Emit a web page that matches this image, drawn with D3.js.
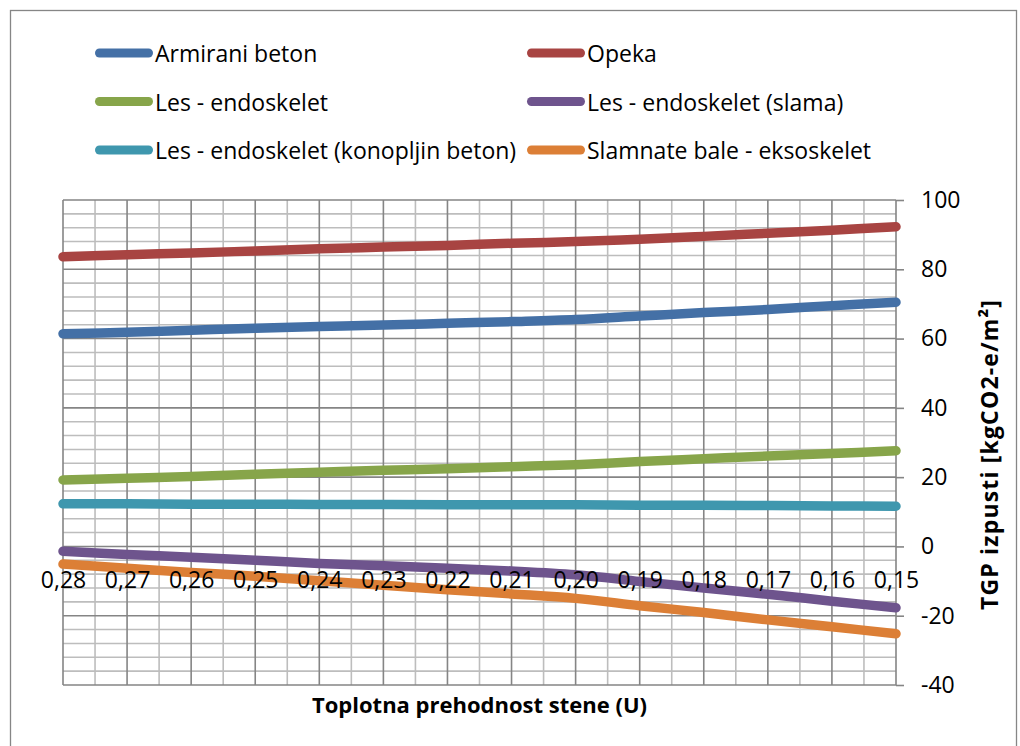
<!DOCTYPE html>
<html>
<head>
<meta charset="utf-8">
<script src="https://cdn.jsdelivr.net/npm/d3@7"></script>
<style>
  html, body { margin: 0; padding: 0; background: #fff; }
  svg { display: block; }
  text { font-family: "Open Sans", "Noto Sans", sans-serif; fill: #000; }
</style>
</head>
<body>
<svg id="chart" width="1020" height="746"></svg>
<script>
// ---- data ----
const categories = ["0,28","0,27","0,26","0,25","0,24","0,23","0,22","0,21","0,20","0,19","0,18","0,17","0,16","0,15"];
const armiraniBeton = [61.4, 61.8, 62.4, 63.0, 63.5, 63.9, 64.4, 64.9, 65.5, 66.5, 67.5, 68.4, 69.5, 70.5];
const opeka          = [83.6, 84.2, 84.7, 85.3, 85.9, 86.4, 86.9, 87.5, 88.0, 88.7, 89.5, 90.4, 91.3, 92.3];
const lesEndoskelet  = [19.2, 19.7, 20.2, 20.8, 21.4, 22.0, 22.4, 23.0, 23.6, 24.5, 25.3, 26.1, 26.8, 27.6];
const lesSlama       = [-1.4, -2.3, -3.1, -4.0, -4.9, -5.6, -6.3, -7.1, -8.2, -10.1, -12.0, -13.8, -15.8, -17.7];
const lesKonoplja    = [12.3, 12.3, 12.2, 12.2, 12.1, 12.1, 12.0, 12.0, 12.0, 11.9, 11.9, 11.8, 11.7, 11.6];
const slamnateBale   = [-5.1, -6.3, -7.5, -8.6, -9.9, -11.2, -12.5, -13.7, -15.0, -17.1, -19.1, -21.2, -23.2, -25.2];
const seriesNames = ["Armirani beton", "Opeka", "Les - endoskelet", "Les - endoskelet (slama)", "Les - endoskelet (konopljin beton)", "Slamnate bale - eksoskelet"];
const seriesValues = [armiraniBeton, opeka, lesEndoskelet, lesSlama, lesKonoplja, slamnateBale];
const seriesColors = ["#4470a6", "#a84442", "#87a54a", "#6e548d", "#3f97ae", "#dc7f36"];
const yMajorTicks = [-40, -20, 0, 20, 40, 60, 80, 100];
const xTitle = "Toplotna prehodnost stene (U)";
const yTitle = "TGP izpusti [kgCO2-e/m²]";

// ---- layout ----
const svg = d3.select("#chart");
const L = 63, R = 896, T = 200, B = 685;

svg.append("rect").attr("x", 10.5).attr("y", 10.5).attr("width", 1006).attr("height", 760)
  .attr("fill", "none").attr("stroke", "#868686").attr("stroke-width", 1.3);

const x = d3.scalePoint().domain(categories).range([L, R]);
const y = d3.scaleLinear().domain([-40, 100]).range([B, T]);

const grid = svg.append("g");
grid.selectAll("line.hmin").data(d3.range(-40, 101, 4).filter(v => v % 20 !== 0)).join("line")
  .attr("x1", L).attr("x2", R).attr("y1", d => y(d)).attr("y2", d => y(d))
  .attr("stroke", "#bdbdbd").attr("stroke-width", 1.6);
const mids = categories.slice(0, -1).map((c, i) => (x(c) + x(categories[i + 1])) / 2);
grid.selectAll("line.vmin").data(mids).join("line")
  .attr("x1", d => d).attr("x2", d => d).attr("y1", T).attr("y2", B)
  .attr("stroke", "#bdbdbd").attr("stroke-width", 1.6);
grid.selectAll("line.hmaj").data(yMajorTicks).join("line")
  .attr("x1", L).attr("x2", R).attr("y1", d => y(d)).attr("y2", d => y(d))
  .attr("stroke", "#858585").attr("stroke-width", 1.6);
grid.selectAll("line.vmaj").data(categories).join("line")
  .attr("x1", d => x(d)).attr("x2", d => x(d)).attr("y1", T).attr("y2", B)
  .attr("stroke", "#858585").attr("stroke-width", 1.6);

// right value axis
const yAxis = d3.axisRight(y).tickValues(yMajorTicks).tickSize(8).tickPadding(17).tickFormat(d => String(d));
const ya = svg.append("g").attr("transform", `translate(${R},0)`).call(yAxis);
ya.select(".domain").remove();
ya.selectAll(".tick line").attr("stroke", "#858585").attr("stroke-width", 1.6);
ya.selectAll(".tick text").attr("font-size", 23).attr("font-family", "'Open Sans', sans-serif").attr("fill", "#000");

// lines
const line = d3.line().x((d, i) => x(categories[i])).y(d => y(d)).curve(d3.curveCatmullRom.alpha(0.5));
svg.append("g").selectAll("path").data(seriesValues).join("path")
  .attr("d", d => line(d)).attr("fill", "none")
  .attr("stroke", (d, i) => seriesColors[i]).attr("stroke-width", 9.5)
  .attr("stroke-linecap", "round").attr("stroke-linejoin", "round");

// category axis crossing at 0 (labels drawn above the lines)
const xAxis = d3.axisBottom(x).tickSize(0).tickPadding(25);
const xa = svg.append("g").attr("transform", `translate(0,${y(0)})`).call(xAxis);
xa.select(".domain").remove();
xa.selectAll(".tick text").attr("font-size", 23).attr("font-family", "'Open Sans', sans-serif").attr("fill", "#000");

// legend
const legCols = [95, 527], legRows = [53, 101.5, 150];
const leg = svg.append("g").selectAll("g").data(seriesNames).join("g")
  .attr("transform", (d, i) => `translate(${legCols[i % 2]},${legRows[Math.floor(i / 2)]})`);
leg.append("line").attr("x1", 4.5).attr("x2", 53.5).attr("y1", 0).attr("y2", 0)
  .attr("stroke", (d, i) => seriesColors[i]).attr("stroke-width", 9).attr("stroke-linecap", "round");
leg.append("text").attr("x", 60).attr("y", 9).attr("font-size", 23).text(d => d);

// axis titles
svg.append("text").attr("x", (L + R) / 2).attr("y", 713).attr("text-anchor", "middle")
  .attr("font-size", 22).attr("font-weight", "bold").text(xTitle);
svg.append("text").attr("transform", "translate(998,455) rotate(-90)").attr("text-anchor", "middle")
  .attr("font-size", 23).attr("font-weight", "bold")
  .attr("textLength", 310).attr("lengthAdjust", "spacing").text(yTitle);
</script>
</body>
</html>
